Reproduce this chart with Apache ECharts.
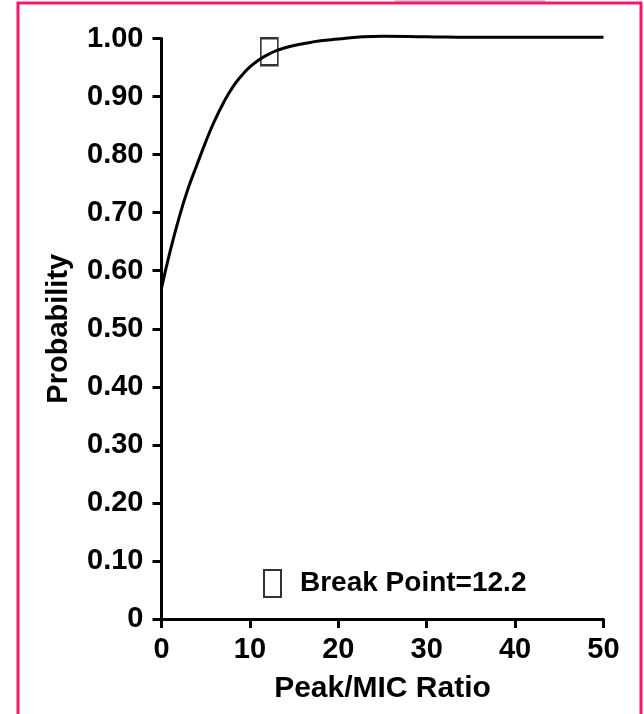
<!DOCTYPE html>
<html>
<head>
<meta charset="utf-8">
<script src="https://cdn.jsdelivr.net/npm/echarts@6/dist/echarts.min.js"></script>
<style>
  html, body { margin: 0; padding: 0; background: #ffffff; }
  #chart { width: 644px; height: 714px; }
</style>
</head>
<body>
<div id="chart"></div>
<script>
// Probability of response against the Peak/MIC ratio
const ratio = [0, 1, 2, 3, 4, 5, 6, 7, 8, 9, 10, 11, 12, 13, 14, 15, 16, 18, 20, 22, 25, 30, 35, 40, 45, 50];
const probability = [0.570, 0.635, 0.692, 0.741, 0.782, 0.822, 0.858, 0.889, 0.915, 0.935, 0.951, 0.963, 0.972, 0.979, 0.984, 0.988, 0.991, 0.996, 0.999, 1.002, 1.004, 1.003, 1.002, 1.002, 1.002, 1.002];

const breakPointName = 'Break Point=12.2';
const breakPoint = [12.2, 0.977];

const xTickLabels = ['0', '10', '20', '30', '40', '50'];
const yTickLabels = ['0', '0.10', '0.20', '0.30', '0.40', '0.50', '0.60', '0.70', '0.80', '0.90', '1.00'];

const FONT = '"Liberation Sans", Arial, Helvetica, sans-serif';
const INK = '#000000';

const chart = echarts.init(document.getElementById('chart'), null, { renderer: 'canvas' });

chart.setOption({
  backgroundColor: '#ffffff',
  animation: false,
  textStyle: { fontFamily: FONT, color: INK },
  grid: { left: 161.5, right: 40.5, top: 38.5, bottom: 95 },
  graphic: [
    { type: 'rect', silent: true, z: -1,
      shape: { x: 395, y: 0, width: 150, height: 3 },
      style: { fill: '#cfcfcf' } },
    { type: 'rect', silent: true,
      shape: { x: 18, y: 3, width: 623, height: 730 },
      style: { fill: 'none', stroke: '#f7186c', lineWidth: 3 } }
  ],
  legend: {
    data: [breakPointName],
    left: 263, top: 569, padding: 0,
    itemWidth: 17, itemHeight: 27,
    itemStyle: { color: 'rgba(0,0,0,0)', borderColor: INK, borderWidth: 2 },
    textStyle: { fontFamily: FONT, fontSize: 28, fontWeight: 'bold', color: INK, padding: [0, 0, 0, 14] }
  },
  xAxis: {
    type: 'value', min: 0, max: 50, interval: 10,
    name: 'Peak/MIC Ratio', nameLocation: 'middle', nameGap: 55,
    nameTextStyle: { fontFamily: FONT, fontSize: 30, fontWeight: 'bold', color: INK },
    axisLine: { lineStyle: { color: INK, width: 3 } },
    axisTick: { length: 9, lineStyle: { color: INK, width: 3 } },
    axisLabel: { margin: 16, fontFamily: FONT, fontSize: 29, fontWeight: 'bold', color: INK,
      formatter: (v) => xTickLabels[Math.round(v / 10)] },
    splitLine: { show: false }
  },
  yAxis: {
    type: 'value', min: 0, max: 1, interval: 0.1,
    name: 'Probability', nameLocation: 'middle', nameGap: 88, nameRotate: 90,
    nameTextStyle: { fontFamily: FONT, fontSize: 29, fontWeight: 'bold', color: INK },
    axisLine: { show: true, lineStyle: { color: INK, width: 3 } },
    axisTick: { show: true, length: 9, lineStyle: { color: INK, width: 3 } },
    axisLabel: { margin: 18, fontFamily: FONT, fontSize: 29, fontWeight: 'bold', color: INK,
      formatter: (v) => yTickLabels[Math.round(v * 10)] },
    splitLine: { show: false }
  },
  series: [
    {
      type: 'line', name: 'curve',
      data: ratio.map((x, i) => [x, probability[i]]),
      smooth: true, showSymbol: false, clip: false,
      lineStyle: { color: INK, width: 3 }
    },
    {
      type: 'scatter', name: breakPointName,
      data: [breakPoint],
      symbol: 'rect', symbolSize: [17, 27], clip: false,
      itemStyle: { color: 'rgba(0,0,0,0)', borderColor: INK, borderWidth: 2 },
      z: 3
    }
  ]
});
</script>
</body>
</html>
